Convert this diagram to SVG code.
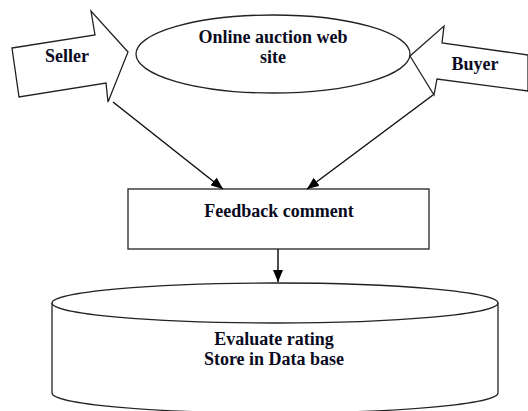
<svg xmlns="http://www.w3.org/2000/svg" width="528" height="411" viewBox="0 0 528 411">
<style>
.s{fill:#fff;stroke:#222;stroke-width:1.3}
.t{font-family:"Liberation Serif",serif;font-weight:bold;font-size:18px;fill:#0a0a1e;text-anchor:middle}
.c{stroke:#111;stroke-width:1.5;fill:none}
</style>
<defs>
<marker id="ah" viewBox="0 0 12 10" refX="12" refY="5" markerWidth="12" markerHeight="10" markerUnits="userSpaceOnUse" orient="auto">
<path d="M0,0 L12,5 L0,10 Z" fill="#000"/>
</marker>
</defs>
<rect width="528" height="411" fill="#fff"/>
<g id="website">
<ellipse class="s" cx="273" cy="54" rx="137" ry="39"/>
<text class="t" x="273" y="43">Online auction web</text>
<text class="t" x="273" y="63">site</text>
</g>
<g id="seller">
<polygon class="s" points="12,48 95,35 91,11 128,52 108,102 106,83 19,97"/>
<text class="t" x="67" y="62">Seller</text>
</g>
<g id="buyer">
<polygon class="s" points="410,56 444,26 442,43 528,55 528,91 437,79 434,95"/>
<text class="t" x="475" y="70">Buyer</text>
</g>
<g id="feedback">
<rect class="s" x="128" y="189" width="301" height="60"/>
<text class="t" x="279" y="217">Feedback comment</text>
</g>
<g id="database">
<path class="s" d="M52,303 L52,393 A223,20 0 0 0 498,393 L498,303"/>
<ellipse class="s" cx="275" cy="303" rx="223" ry="20"/>
<text class="t" x="274" y="345">Evaluate rating</text>
<text class="t" x="274" y="365">Store in Data base</text>
</g>
<g id="connectors">
<line class="c" x1="113" y1="102" x2="223" y2="189" marker-end="url(#ah)"/>
<line class="c" x1="433" y1="95" x2="307" y2="189" marker-end="url(#ah)"/>
<line class="c" x1="278" y1="249" x2="278" y2="282" marker-end="url(#ah)"/>
</g>
</svg>
